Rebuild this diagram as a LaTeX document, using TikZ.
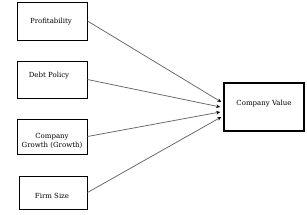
\documentclass[tikz,border=0pt]{standalone}
\usepackage{fontspec}
\setmainfont{DejaVu Serif}
\usetikzlibrary{arrows.meta,calc}
\begin{document}
\begin{tikzpicture}[x=1pt,y=-1pt,
  box/.style={draw=black,line width=1pt,inner sep=0pt,align=center,font=\fontsize{7}{9.5}\selectfont},
  lbl/.style={inner sep=0pt,align=center,font=\fontsize{7}{9.5}\selectfont},
  conn/.style={draw=black!60,line width=0.75pt,-{Stealth[length=4pt,width=3.5pt,black]}}]
\useasboundingbox (0,0) rectangle (307,214);
\node[box,minimum width=70pt,minimum height=38pt] (p) at (52,21) {};
\node[lbl] (pl) at (51,22) {Profitability};
\node[box,minimum width=70pt,minimum height=37pt] (d) at (52,79.5) {};
\node[lbl] (dl) at (49,75.5) {Debt Policy};
\node[box,minimum width=70pt,minimum height=35pt] (g) at (52,136.5) {};
\node[lbl] (gl) at (52,141) {Company\\Growth (Growth)};
\node[box,minimum width=68pt,minimum height=33pt] (s) at (53,192.5) {};
\node[lbl] (sl) at (52,196) {Firm Size};
\node[box,line width=1.5pt,minimum width=80pt,minimum height=48pt] (v) at (264,107) {};
\node[lbl] (vl) at (264,104) {Company Value};
\coordinate (t1) at ($(v.west)+(-2,-5)$);
\coordinate (t2) at ($(v.west)+(-3,0)$);
\coordinate (t3) at ($(v.west)+(-3,5)$);
\coordinate (t4) at ($(v.west)+(-2,10)$);
\draw[conn] (p.east) -- (t1);
\draw[conn] (d.east) -- (t2);
\draw[conn] (g.east) -- (t3);
\draw[conn] (s.east) -- (t4);
\end{tikzpicture}
\end{document}
